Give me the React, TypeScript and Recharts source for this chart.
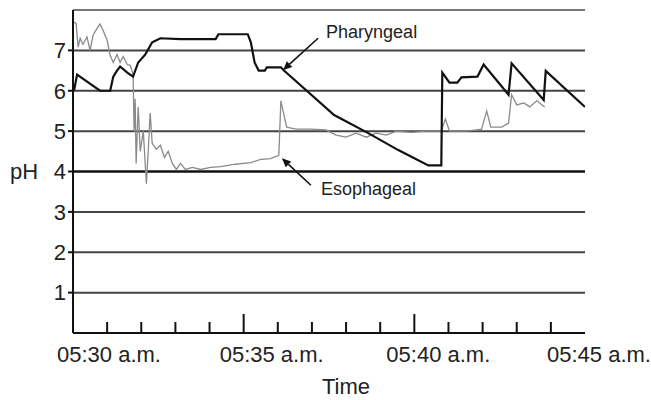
import React from 'react';
import { LineChart, Line, XAxis, YAxis, ReferenceLine } from 'recharts';

// minutes after 05:30 a.m.
const pharTimes = [0.03, 0.12, 0.79, 1.09, 1.18, 1.29, 1.38, 1.59, 1.76, 1.91, 2.12, 2.32, 2.56, 3.15, 4.18, 4.26, 5.12, 5.21, 5.32, 5.44, 5.62, 5.68, 6.09, 6.18, 7.65, 8.65, 9.53, 10.0, 10.41, 10.79, 10.82, 11.03, 11.26, 11.38, 11.85, 12.03, 12.76, 12.85, 13.79, 13.85, 15.0];
const pharValues = [6.0, 6.4, 6.0, 6.0, 6.35, 6.5, 6.6, 6.45, 6.35, 6.7, 6.9, 7.2, 7.3, 7.28, 7.28, 7.4, 7.4, 7.2, 6.7, 6.5, 6.5, 6.58, 6.58, 6.5, 5.4, 4.95, 4.53, 4.33, 4.15, 4.15, 6.45, 6.2, 6.2, 6.33, 6.35, 6.65, 5.9, 6.68, 5.77, 6.49, 5.6];

const esoTimes = [0.03, 0.09, 0.15, 0.21, 0.29, 0.41, 0.5, 0.59, 0.71, 0.79, 0.88, 1.0, 1.09, 1.18, 1.29, 1.38, 1.47, 1.59, 1.68, 1.76, 1.79, 1.82, 1.85, 1.91, 1.97, 2.06, 2.15, 2.21, 2.26, 2.32, 2.44, 2.56, 2.68, 2.79, 2.91, 3.03, 3.15, 3.29, 3.5, 3.74, 4.03, 4.32, 4.76, 5.21, 5.5, 5.79, 6.03, 6.09, 6.18, 6.26, 6.53, 6.97, 7.41, 7.71, 8.0, 8.29, 8.59, 8.88, 9.18, 9.47, 9.91, 10.35, 10.79, 10.91, 11.03, 11.53, 11.97, 12.12, 12.24, 12.56, 12.76, 12.85, 13.0, 13.21, 13.38, 13.59, 13.82];
const esoValues = [7.7, 7.67, 7.08, 7.3, 7.15, 7.33, 7.0, 7.38, 7.55, 7.65, 7.5, 7.25, 6.87, 6.7, 6.9, 6.7, 6.85, 6.65, 6.63, 6.4, 5.0, 5.8, 4.2, 5.6, 4.5, 5.0, 3.7, 4.6, 5.45, 4.7, 4.55, 4.65, 4.35, 4.5, 4.2, 4.05, 4.2, 4.05, 4.1, 4.05, 4.1, 4.12, 4.18, 4.22, 4.3, 4.32, 4.4, 5.75, 5.4, 5.1, 5.05, 5.05, 5.03, 4.9, 4.85, 4.95, 4.85, 4.95, 4.9, 5.0, 4.97, 5.0, 5.0, 5.3, 5.0, 5.0, 5.05, 5.5, 5.1, 5.1, 5.2, 5.9, 5.65, 5.7, 5.6, 5.75, 5.6];

const xTicks = [0, 1, 2, 3, 4, 5, 6, 7, 8, 9, 10, 11, 12, 13, 14, 15];
const xLabels: Record<number, string> = { 0: '05:30 a.m.', 5: '05:35 a.m.', 10: '05:40 a.m.', 15: '05:45 a.m.' };
const yTicks = [1, 2, 3, 4, 5, 6, 7];
const gridLevels = [1, 2, 3, 4, 5, 6, 7, 8];

const pharData = pharTimes.map((t, i) => ({ t, v: pharValues[i] }));
const esoData = esoTimes.map((t, i) => ({ t, v: esoValues[i] }));

const labelShift: Record<number, number> = { 0: -16, 5: -24, 10: -28, 15: -38 };

const XTick = (props: any) => {
  const { x, y, payload } = props;
  const v = payload.value;
  const major = v % 5 === 0;
  const showTick = v > 0 && v < 15;
  return (
    <g>
      {showTick && (
        <line x1={x} y1={y} x2={x} y2={y - (major ? 19 : 11)} stroke="#111" strokeWidth={2} />
      )}
      {xLabels[v] && (
        <text x={x + labelShift[v]} y={y + 29} textAnchor="start" fontSize={22} fill="#222">
          {xLabels[v]}
        </text>
      )}
    </g>
  );
};

const arrowShape = (label: string, dx: number, dy: number) => (props: any) => {
  const { x1, y1, x2, y2 } = props;
  const ang = Math.atan2(y2 - y1, x2 - x1);
  const L = 9;
  const W = 4;
  const bx = x2 - L * Math.cos(ang);
  const by = y2 - L * Math.sin(ang);
  const px = -Math.sin(ang) * W;
  const py = Math.cos(ang) * W;
  return (
    <g>
      <line x1={x1} y1={y1} x2={bx} y2={by} stroke="#111" strokeWidth={1.6} />
      <polygon points={`${x2},${y2} ${bx + px},${by + py} ${bx - px},${by - py}`} fill="#111" />
      <text x={x1 + dx} y={y1 + dy} fontSize={18} fill="#222">{label}</text>
    </g>
  );
};

export default function App() {
  return (
    <div style={{ position: 'absolute', left: 0, top: 0, width: 651, height: 400, background: '#fff', fontFamily: '"Liberation Sans", Arial, sans-serif' }}>
      <LineChart width={651} height={400} margin={{ top: 10, right: 66, bottom: 0, left: 0 }}>
        {gridLevels.map((g) => (
          <ReferenceLine
            key={g}
            y={g}
            stroke={g === 4 ? '#111' : g === 8 ? '#777' : '#444'}
            strokeWidth={g === 4 ? 2.4 : 2}
          />
        ))}
        <XAxis
          type="number"
          dataKey="t"
          domain={[0, 15]}
          ticks={xTicks}
          interval={0}
          allowDataOverflow
          height={67}
          tickSize={0}
          tickMargin={0}
          tickLine={false}
          tick={<XTick />}
          axisLine={{ stroke: '#111', strokeWidth: 2 }}
          label={{ value: 'Time', position: 'insideBottom', offset: 6, dx: 17, fontSize: 22, fill: '#222' }}
        />
        <YAxis
          type="number"
          domain={[0, 8]}
          ticks={yTicks}
          interval={0}
          width={73}
          tickSize={5}
          tickMargin={2}
          tickLine={{ stroke: '#111', strokeWidth: 2 }}
          axisLine={{ stroke: '#111', strokeWidth: 2 }}
          tick={{ fontSize: 22, fill: '#222' }}
          label={{ value: 'pH', position: 'insideLeft', offset: 10, fontSize: 22, fill: '#222' }}
        />
        <Line
          data={esoData}
          dataKey="v"
          type="linear"
          stroke="#8a8a8a"
          strokeWidth={1.3}
          dot={false}
          isAnimationActive={false}
        />
        <Line
          data={pharData}
          dataKey="v"
          type="linear"
          stroke="#111"
          strokeWidth={2.2}
          dot={false}
          isAnimationActive={false}
        />
        <ReferenceLine
          segment={[{ x: 7.18, y: 7.3 }, { x: 6.15, y: 6.51 }]}
          shape={arrowShape('Pharyngeal', 8, 0)}
        />
        <ReferenceLine
          segment={[{ x: 6.97, y: 3.66 }, { x: 6.12, y: 4.33 }]}
          shape={arrowShape('Esophageal', 10, 10)}
        />
      </LineChart>
    </div>
  );
}
